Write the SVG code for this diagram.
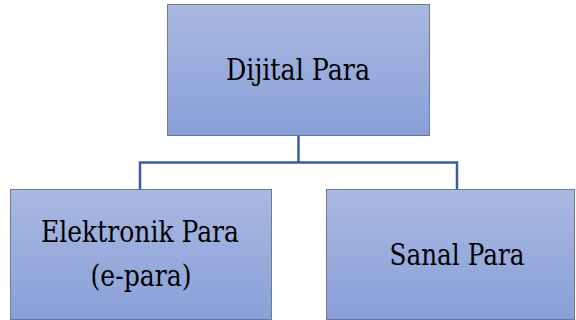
<svg xmlns="http://www.w3.org/2000/svg" width="576" height="320" viewBox="0 0 576 320">
<defs>
<linearGradient id="g" x1="0" y1="0" x2="0" y2="1">
<stop offset="0" stop-color="#AAB8E1"/>
<stop offset="1" stop-color="#88A0D8"/>
</linearGradient>
<style>
.box{fill:url(#g);stroke:#6F7A8F;stroke-width:1}
.t{font-family:'DejaVu Serif','Liberation Serif',serif;font-size:29px;fill:#000;text-anchor:middle}
.c{fill:none;stroke:#3B5C9E;stroke-width:2.5}
</style>
</defs>
<rect width="576" height="320" fill="#fff"/>
<g id="connectors">
<path class="c" d="M298.5 135V162.5M140 189V162.5H457V189"/>
</g>
<g id="dijital">
<rect class="box" x="167.5" y="4.5" width="262" height="131"/>
<text class="t" x="298" y="80" textLength="144" lengthAdjust="spacingAndGlyphs">Dijital Para</text>
</g>
<g id="elektronik">
<rect class="box" x="10.5" y="189.5" width="261" height="130"/>
<text class="t" x="140" y="242" textLength="198" lengthAdjust="spacingAndGlyphs">Elektronik Para</text>
<text class="t" x="141" y="286" textLength="101" lengthAdjust="spacingAndGlyphs">(e-para)</text>
</g>
<g id="sanal">
<rect class="box" x="326.5" y="189.5" width="248" height="130"/>
<text class="t" x="457" y="265" textLength="135" lengthAdjust="spacingAndGlyphs">Sanal Para</text>
</g>
</svg>
